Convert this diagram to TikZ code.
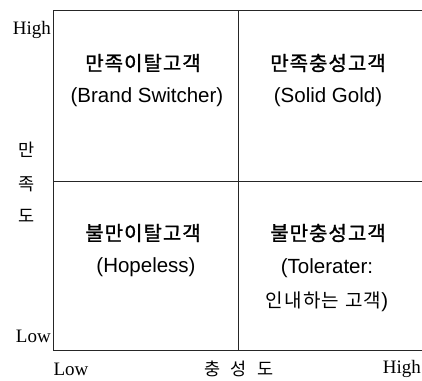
\documentclass[tikz,border=0pt]{standalone}
\usepackage{fontspec}
\setmainfont{Liberation Sans}
\newfontfamily\kr{Noto Sans CJK KR}
\newfontfamily\krhead[LetterSpace=5,FakeBold=1.2]{Noto Sans CJK KR}
\newfontfamily\krsub[LetterSpace=6]{Noto Sans CJK KR}
\newfontfamily\ser{Liberation Serif}
\begin{document}
\begin{tikzpicture}[x=1pt,y=-1pt,
  frame/.style={line width=0.9pt,draw=black!85},
  head/.style={inner sep=0pt,font=\krhead\fontsize{20}{22}\selectfont},
  sub/.style={inner sep=0pt,font=\fontsize{20.5}{23}\selectfont},
  axis/.style={inner sep=0pt,font=\ser\fontsize{19}{21}\selectfont},
  axkr/.style={inner sep=0pt,font=\kr\fontsize{17.5}{19}\selectfont}]
\useasboundingbox (0,0) rectangle (422,380);
\coordinate (TL) at (53,10);
\coordinate (TR) at (423,10);
\coordinate (BL) at (53,350);
\coordinate (BR) at (423,350);
\coordinate (ML) at (53,181);
\coordinate (MR) at (423,181);
\coordinate (MT) at (238,10);
\coordinate (MB) at (238,350);
\draw[frame] (TR) -- (TL) -- (BL) -- (BR);
\draw[frame] (MT) -- (MB);
\draw[frame] (ML) -- (MR);
% quadrants
\node[head] (q1h) at (143,63) {만족이탈고객};
\node[sub] (q1s) at (147,97) {(Brand Switcher)};
\node[head] (q2h) at (328,63) {만족충성고객};
\node[sub] (q2s) at (328,97) {(Solid Gold)};
\node[head] (q3h) at (143,233) {불만이탈고객};
\node[sub] (q3s) at (146,267) {(Hopeless)};
\node[head] (q4h) at (328,233) {불만충성고객};
\node[sub] (q4s) at (327,268) {(Tolerater:};
\node[sub] (q4t) at (327,302) {{\krsub\fontsize{19}{21}\selectfont 인내하는\hspace{6pt}고객})};
% axes
\node[axis,anchor=east] (yh) at (51,30) {High};
\node[axis,anchor=east] (yl) at (51,336) {Low};
\node[axkr] (y1) at (26.5,150) {만};
\node[axkr] (y2) at (26.5,184) {족};
\node[axkr] (y3) at (26.5,216) {도};
\node[axis] (xl) at (71,369) {Low};
\node[axkr] (xm) at (239,369) {충\hspace{10pt}성\hspace{10pt}도};
\node[axis,anchor=east] (xh) at (421,369) {High};
\end{tikzpicture}
\end{document}
